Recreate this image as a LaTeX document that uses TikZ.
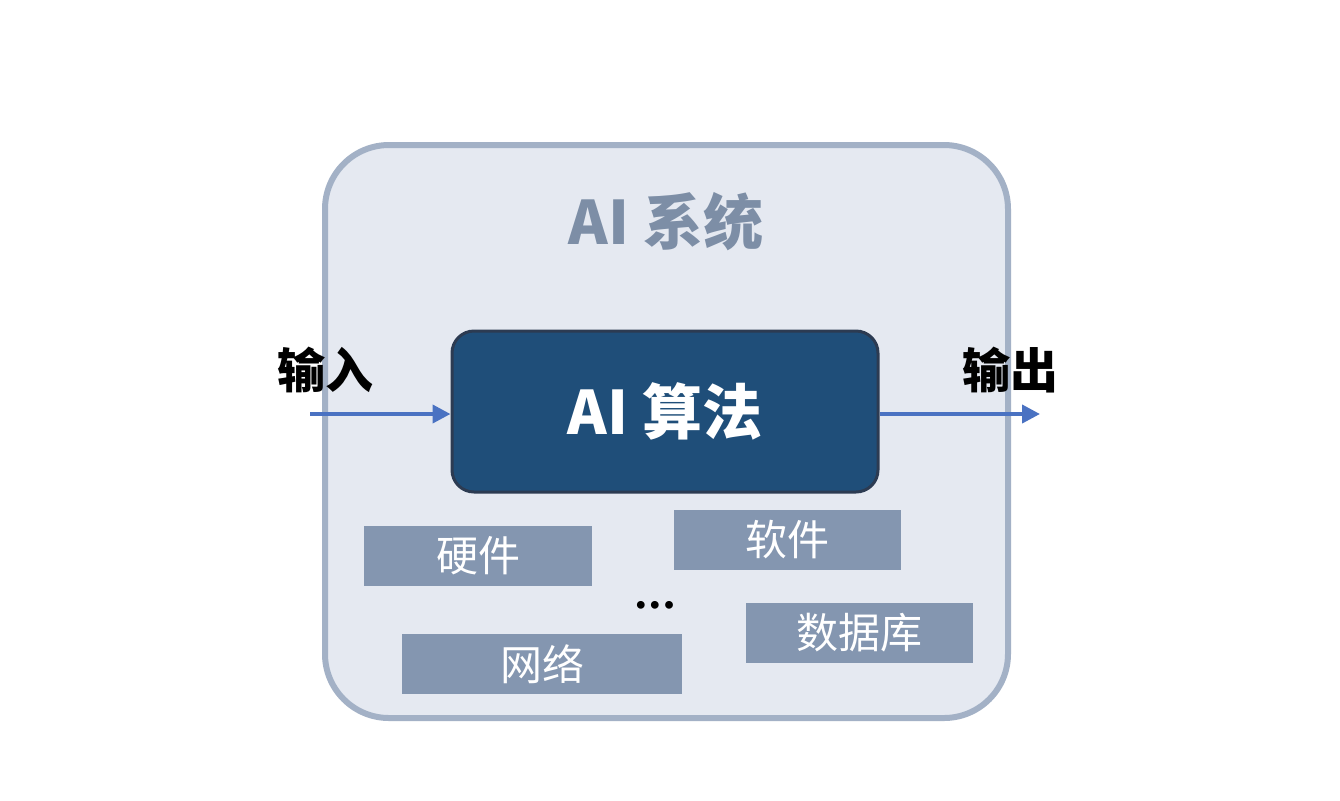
\documentclass[tikz,border=0pt]{standalone}
\usepackage{fontspec}
\setmainfont{Noto Sans CJK SC}
\newfontfamily\dvfont{DejaVu Sans}
\usetikzlibrary{arrows.meta}
\definecolor{sysfill}{HTML}{E5E9F1}
\definecolor{sysline}{HTML}{A3B1C6}
\definecolor{systext}{HTML}{7D8EA6}
\definecolor{algofill}{HTML}{1F4E79}
\definecolor{algoline}{HTML}{2C3B52}
\definecolor{compfill}{HTML}{8496B0}
\definecolor{arrowblue}{HTML}{4A72C2}
\tikzset{
  comp/.style={fill=compfill, text=white, font=\fontsize{21pt}{24pt}\selectfont, inner sep=0pt, minimum height=30pt},
  flow/.style={draw=arrowblue, line width=2pt, -{Triangle[length=9pt,width=9pt]}},
  iolabel/.style={font=\bfseries\fontsize{24pt}{28pt}\selectfont, text=black}
}
\begin{document}
\begin{tikzpicture}[x=0.5pt,y=-0.5pt]
\useasboundingbox[fill=white] (0,0) rectangle (1340,800);
\node[draw=sysline, line width=3pt, fill=sysfill, rounded corners=32pt, minimum width=341.5pt, minimum height=286.5pt, inner sep=0pt] (sys) at (666.5,431.5) {};
\node[font=\bfseries\fontsize{30pt}{34pt}\selectfont, text=systext] (title) at (666,222) {AI 系统};
\node[draw=algoline, line width=1.5pt, fill=algofill, rounded corners=11pt, minimum width=213pt, minimum height=80.5pt, inner sep=0pt, text=white, font=\bfseries\fontsize{30pt}{34pt}\selectfont] (algo) at (665,411.5) {AI 算法};
\node[iolabel] (in) at (325,370) {输入};
\node[iolabel] (out) at (1010,370) {输出};
\coordinate (instart) at (310,414);
\coordinate (outend) at (1040,414);
\draw[flow] (instart) -- (instart -| algo.west);
\draw[flow] (algo.east |- outend) -- (outend);
\node[comp, minimum width=114pt] (hw) at (478,556) {硬件};
\node[comp, minimum width=113.5pt] (sw) at (787.5,540) {软件};
\node[comp, minimum width=113.5pt] (db) at (859.5,633) {数据库};
\node[comp, minimum width=140pt] (net) at (542,664) {网络};
\node[font=\dvfont\bfseries\fontsize{11pt}{12pt}\selectfont, inner sep=0pt] (dots) at (655,607) {•••};
\end{tikzpicture}
\end{document}
